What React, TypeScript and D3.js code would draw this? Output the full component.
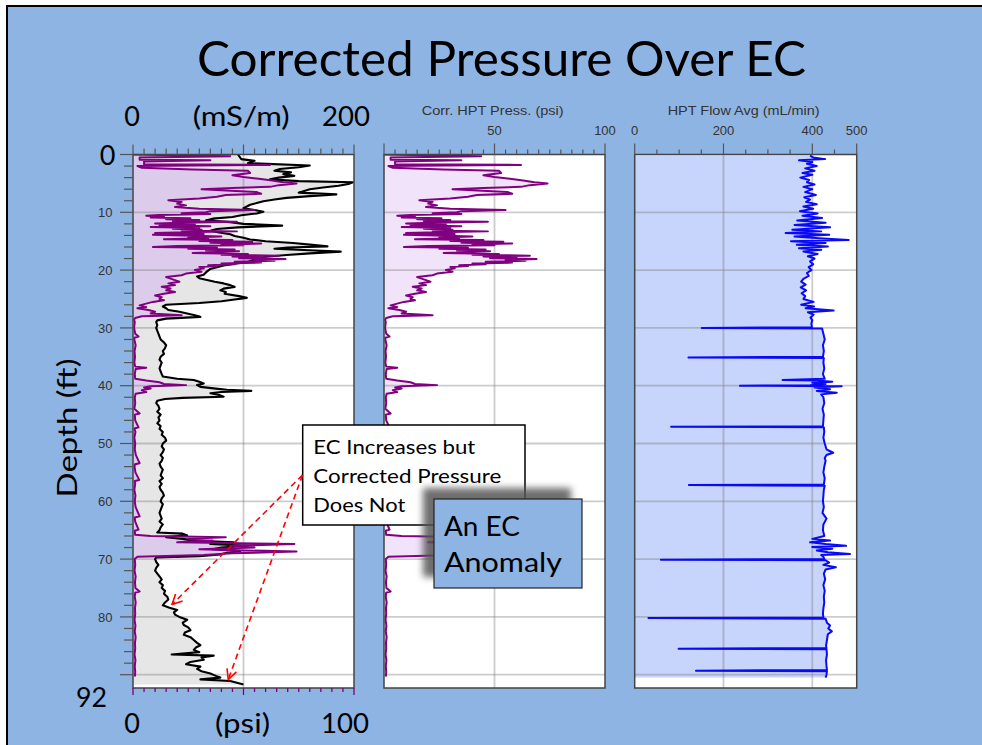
import React from "react";
import * as d3 from "d3";

const W = 982;
const H = 745;

// ---------- data (depth ft, value) ----------
const depthLabels = [10, 20, 30, 40, 50, 60, 70, 80];
const ecAxisLabels = ["0", "(mS/m)", "200"];
const psiAxisLabels = ["0", "(psi)", "100"];
const pressTickLabels = [50, 100];
const flowTickLabels = [0, 200, 400, 500];

const ecProfile: [number, number][] = [
  [0.0, 95], [0.8, 98], [1.1, 110], [1.5, 104], [1.9, 160], [2.2, 150], [2.5, 133], [2.8, 128],
  [3.1, 143], [3.4, 136], [3.7, 146], [4.0, 132], [4.3, 124], [4.6, 150], [4.8, 199], [5.1, 195],
  [5.4, 186], [5.7, 172], [6.0, 160], [6.3, 155], [6.6, 150], [6.9, 184], [7.2, 160], [7.5, 139],
  [7.8, 128], [8.1, 118], [8.4, 112], [8.7, 106], [9.0, 103], [9.3, 100], [9.6, 110], [9.9, 118],
  [10.2, 112], [10.5, 98], [10.8, 90], [11.1, 72], [11.4, 66], [11.7, 88], [12.0, 100], [12.3, 135],
  [12.6, 95], [12.9, 76], [13.2, 70], [13.5, 78], [13.8, 88], [14.1, 92], [14.4, 100], [14.7, 106],
  [15.0, 120], [15.3, 145], [15.6, 160], [15.9, 176], [16.1, 140], [16.3, 128], [16.6, 165], [16.8, 188],
  [17.1, 160], [17.4, 139], [17.7, 120], [18.0, 112], [18.3, 108], [18.6, 104], [18.9, 92], [19.2, 82],
  [19.5, 76], [19.8, 70], [20.1, 68], [20.4, 66], [20.8, 64], [21.1, 58], [21.4, 60], [21.7, 67],
  [22.0, 74], [22.3, 82], [22.6, 88], [22.9, 92], [23.2, 82], [23.5, 79], [23.8, 84], [24.1, 83],
  [24.5, 96], [24.8, 103], [25.1, 92], [25.4, 80], [25.7, 60], [26.0, 30], [26.3, 27], [26.6, 30],
  [26.9, 32], [27.2, 42], [27.5, 49], [27.8, 56], [28.1, 61], [28.4, 30], [28.7, 22], [29.0, 21],
  [29.5, 22], [30.0, 21], [30.5, 22], [31.0, 23], [31.5, 24], [32.0, 25], [32.5, 28], [33.0, 30],
  [33.5, 29], [34.0, 27], [34.5, 28], [35.0, 25], [35.5, 24], [36.0, 26], [36.5, 25], [37.0, 24],
  [37.5, 25], [38.0, 26], [38.4, 27], [38.8, 40], [39.0, 55], [39.3, 60], [39.6, 64], [39.9, 58],
  [40.2, 61], [40.5, 75], [40.7, 85], [40.9, 107], [41.1, 80], [41.3, 70], [41.6, 78], [41.9, 82],
  [42.1, 45], [42.3, 29], [42.6, 22], [43.0, 21], [43.5, 23], [44.0, 24], [44.5, 22], [45.0, 25],
  [45.5, 23], [46.0, 24], [46.5, 22], [47.0, 25], [47.5, 24], [48.0, 27], [48.5, 26], [49.0, 29],
  [49.5, 30], [50.0, 27], [50.5, 26], [51.0, 28], [51.5, 27], [52.0, 25], [52.5, 27], [53.0, 26],
  [53.5, 24], [54.0, 25], [54.5, 27], [55.0, 26], [55.5, 25], [56.0, 27], [56.5, 24], [57.0, 26],
  [57.5, 24], [58.0, 25], [58.5, 27], [59.0, 28], [59.5, 26], [60.0, 25], [60.5, 27], [61.0, 26],
  [61.5, 25], [62.0, 24], [62.5, 25], [63.0, 26], [63.5, 24], [64.0, 27], [64.5, 25], [65.0, 24],
  [65.4, 22], [65.6, 45], [65.9, 49], [66.2, 30], [66.5, 45], [66.8, 55], [67.1, 91], [67.4, 70],
  [67.7, 103], [68.0, 80], [68.3, 72], [68.6, 97], [68.9, 85], [69.2, 79], [69.5, 60], [69.7, 21],
  [70.0, 20], [70.5, 21], [71.0, 23], [71.5, 21], [72.0, 20], [72.5, 22], [73.0, 24], [73.5, 26],
  [74.0, 24], [74.5, 27], [75.0, 26], [75.5, 29], [76.0, 28], [76.5, 31], [77.0, 32], [77.5, 29],
  [78.0, 27], [78.4, 33], [78.8, 40], [79.2, 37], [79.6, 38], [80.0, 42], [80.5, 49], [81.0, 45],
  [81.4, 46], [81.8, 50], [82.3, 52], [82.7, 47], [83.1, 46], [83.5, 52], [84.0, 55], [84.5, 58],
  [84.9, 61], [85.3, 57], [85.7, 55], [86.1, 60], [86.5, 35], [86.7, 73], [87.0, 62], [87.4, 64],
  [87.8, 52], [88.2, 48], [88.6, 61], [89.0, 58], [89.4, 62], [89.8, 70], [90.2, 75], [90.5, 79],
  [90.8, 61], [91.1, 88], [91.4, 94], [91.7, 100],
];

const pressProfile: [number, number][] = [
  [0.0, 0], [0.3, 44], [0.5, 3], [0.9, 3], [1.0, 35], [1.2, 5], [1.7, 5], [1.8, 62], [2.0, 2],
  [2.3, 4], [2.6, 27], [2.8, 52], [3.2, 53], [3.6, 45], [3.9, 50], [4.2, 57], [4.5, 63], [4.8, 68],
  [5.0, 74], [5.3, 66], [5.6, 62], [5.8, 45], [6.0, 31], [6.2, 40], [6.5, 56], [6.8, 58], [7.0, 42],
  [7.3, 38], [7.6, 30], [7.9, 16], [8.2, 22], [8.5, 20], [8.8, 24], [9.1, 19], [9.4, 30], [9.6, 55],
  [9.8, 35], [10.0, 33], [10.15, 22], [10.3, 35], [10.45, 12], [10.6, 6], [10.75, 14], [10.9, 8],
  [11.05, 26], [11.2, 15], [11.35, 30], [11.5, 18], [11.65, 47], [11.8, 22], [11.95, 10], [12.1, 28],
  [12.25, 12], [12.4, 35], [12.55, 8], [12.7, 30], [12.85, 18], [13.0, 31], [13.15, 22], [13.3, 47],
  [13.45, 24], [13.6, 10], [13.75, 32], [13.9, 9], [14.05, 28], [14.2, 40], [14.35, 25], [14.5, 34],
  [14.65, 14], [14.8, 45], [14.95, 30], [15.1, 54], [15.25, 35], [15.4, 58], [15.55, 40], [15.7, 50],
  [15.85, 20], [16.0, 9], [16.15, 38], [16.3, 25], [16.45, 46], [16.6, 33], [16.75, 48], [16.9, 38],
  [17.05, 27], [17.2, 52], [17.35, 40], [17.5, 66], [17.65, 45], [17.8, 60], [17.95, 48], [18.1, 69],
  [18.25, 55], [18.4, 64], [18.55, 46], [18.7, 58], [18.85, 40], [19.0, 46], [19.15, 34], [19.3, 38],
  [19.45, 30], [19.7, 32], [20.0, 28], [20.3, 31], [20.6, 24],
  [20.9, 22], [21.2, 15], [21.6, 18], [22.0, 21], [22.3, 16], [22.6, 19], [22.9, 13], [23.2, 17],
  [23.5, 15], [23.8, 19], [24.1, 14], [24.4, 10], [24.7, 13], [25.0, 12], [25.2, 14], [25.5, 9],
  [25.8, 6], [26.1, 3], [26.4, 6], [26.6, 2], [26.9, 7], [27.2, 10], [27.5, 8], [27.8, 22],
  [28.0, 4], [28.3, 1], [28.6, 0.5], [29.0, 0.8], [30.0, 0.5], [31.0, 1.0], [31.5, 2.5], [31.7, 0.6],
  [32.0, 0.6], [33.0, 1.2], [34.0, 0.7], [35.0, 0.9], [36.0, 0.6], [36.7, 1.0], [36.9, 6], [37.1, 1.2],
  [38.0, 0.8], [38.8, 1.0], [39.1, 6], [39.4, 12], [39.7, 14], [39.9, 24], [40.1, 8], [40.3, 5],
  [40.5, 8], [40.8, 4], [41.1, 6], [41.4, 1.2], [42.0, 0.8], [43.0, 1.0], [44.0, 0.6], [44.8, 3],
  [45.0, 0.8], [46.0, 1.0], [47.2, 2.5], [47.4, 0.7], [48.0, 1.1], [49.0, 0.6], [50.0, 1.0], [51.0, 0.8],
  [52.0, 1.3], [53.4, 3], [53.6, 0.9], [54.0, 0.7], [55.0, 1.1], [56.3, 2.8], [56.5, 0.8], [57.0, 1.0],
  [58.0, 0.6], [59.0, 1.1], [60.0, 0.8], [61.0, 1.2], [62.6, 3], [62.8, 0.8], [63.5, 1.0], [64.9, 2.5],
  [65.1, 0.8], [65.8, 1.0], [66.0, 8], [66.2, 42], [66.5, 25], [66.8, 36], [67.1, 20], [67.4, 73],
  [67.7, 45], [68.0, 55], [68.3, 30], [68.7, 74], [69.0, 45], [69.3, 32], [69.6, 2], [70.0, 0.8],
  [71.0, 1.0], [72.0, 0.7], [73.0, 1.2], [74.0, 0.9], [75.0, 1.1], [75.6, 3], [75.8, 1.0], [76.5, 0.8],
  [77.5, 1.2], [78.5, 0.9], [79.5, 1.0], [80.5, 0.7], [81.5, 1.1], [82.5, 0.8], [83.5, 1.2], [84.5, 0.9],
  [85.5, 1.0], [86.5, 0.7], [87.5, 1.1], [88.5, 0.8], [89.5, 1.0], [90.3, 0.9],
];

const flowProfile: [number, number][] = [
  [0.2, 395], [0.5, 402], [0.8, 429], [1.0, 370], [1.3, 400], [1.6, 388], [2.0, 410], [2.4, 384],
  [2.8, 405], [3.2, 378], [3.5, 400], [4.0, 373], [4.4, 393], [4.8, 388], [5.2, 405], [5.6, 380],
  [6.0, 400], [6.5, 384], [7.0, 408], [7.4, 382], [7.8, 395], [8.2, 386], [8.6, 410], [9.0, 380],
  [9.4, 402], [9.8, 372], [10.2, 412], [10.6, 378], [11.0, 422], [11.4, 366], [11.8, 430], [12.2, 360],
  [12.6, 440], [13.0, 355], [13.3, 420], [13.6, 340], [13.9, 438], [14.2, 360], [14.5, 415], [14.8, 482],
  [15.0, 352], [15.3, 430], [15.6, 365], [15.9, 435], [16.2, 370], [16.5, 420], [16.8, 380], [17.2, 412],
  [17.6, 390], [18.0, 405], [18.5, 395], [19.0, 402], [19.5, 392], [20.0, 398], [20.5, 388], [21.0, 392],
  [21.5, 380], [22.0, 375], [22.5, 385], [23.0, 374], [23.5, 386], [24.0, 376], [24.5, 384], [25.0, 380],
  [25.5, 403], [26.0, 375], [26.3, 404], [26.6, 385], [27.0, 448], [27.3, 390], [27.7, 403], [28.2, 396],
  [28.7, 400], [29.2, 398], [29.9, 399], [30.0, 151], [30.1, 422], [31.0, 425], [32.0, 428], [33.0, 424],
  [34.0, 426], [35.0, 424], [35.1, 121], [35.2, 426], [36.0, 425], [37.0, 427], [38.0, 424], [38.8, 428],
  [39.0, 333], [39.1, 410], [39.3, 445], [39.5, 400], [39.7, 430], [39.9, 395], [40.0, 237], [40.1, 466],
  [40.3, 405], [40.6, 440], [40.9, 410], [41.2, 455], [41.5, 420], [42.0, 425], [43.0, 427], [44.0, 423],
  [45.0, 426], [46.0, 425], [47.0, 424], [47.1, 82], [47.2, 426], [48.0, 427], [49.0, 425], [50.0, 428],
  [51.0, 432], [51.6, 447], [52.0, 432], [52.5, 428], [53.0, 430], [54.0, 427], [55.0, 425], [56.0, 428],
  [57.1, 426], [57.2, 122], [57.3, 428], [58.0, 426], [59.0, 425], [60.0, 424], [61.0, 426], [62.0, 423],
  [63.0, 432], [64.0, 425], [65.0, 424], [66.0, 427], [66.5, 400], [66.8, 440], [67.1, 395], [67.4, 430],
  [67.7, 476], [67.9, 400], [68.2, 445], [68.5, 410], [68.8, 435], [69.1, 485], [69.3, 420], [69.6, 425],
  [70.0, 427], [70.1, 59], [70.2, 430], [70.6, 438], [71.0, 425], [71.4, 453], [71.8, 430], [72.5, 426],
  [73.5, 429], [74.5, 425], [75.5, 428], [76.5, 426], [77.5, 427], [78.5, 425], [79.5, 424], [80.1, 425],
  [80.2, 31], [80.3, 430], [81.0, 433], [81.5, 440], [82.0, 436], [82.5, 444], [83.0, 435], [84.0, 433],
  [85.0, 431], [85.4, 432], [85.5, 99], [85.6, 432], [86.5, 433], [87.5, 431], [88.5, 432], [89.2, 433],
  [89.3, 138], [89.4, 433], [90.0, 432], [90.5, 430],
];

// ---------- layout ----------
const TOP = 154.5;
const BOTTOM = 688;
const LEFT_P = [133, 354];
const MID_P = [384, 605];
const RIGHT_P = [634.7, 856.7];

const BG = "#8eb4e3";
const PURPLE = "#800080";
const GRID = "rgba(120,120,120,0.38)";
const LATO = "Lato, 'Open Sans', sans-serif";
const ARIAL = "'Liberation Sans', Arial, sans-serif";

export default function App() {
  const y = d3.scaleLinear().domain([0, 92.3]).range([TOP, BOTTOM]);
  const ecX = d3.scaleLinear().domain([0, 200]).range(LEFT_P);
  const psiL = d3.scaleLinear().domain([0, 100]).range(LEFT_P);
  const psiM = d3.scaleLinear().domain([0, 100]).range(MID_P);
  const flowX = d3.scaleLinear().domain([0, 500]).range(RIGHT_P);

  const mkLine = (xs: d3.ScaleLinear<number, number>) =>
    d3.line<[number, number]>().x((d) => xs(d[1])).y((d) => y(d[0]));
  const mkArea = (xs: d3.ScaleLinear<number, number>) =>
    d3.area<[number, number]>().x0(xs(0)).x1((d) => xs(d[1])).y((d) => y(d[0]));

  const gridDepths = d3.range(10, 91, 10);
  const depthTicks = d3.range(0, 91, 2);

  const panelRect = (p: number[], id: string) => (
    <clipPath id={id}>
      <rect x={p[0]} y={TOP} width={p[1] - p[0]} height={BOTTOM - TOP} />
    </clipPath>
  );

  const hGrid = (p: number[]) =>
    gridDepths.map((d) => (
      <line key={"g" + d} x1={p[0]} x2={p[1]} y1={y(d)} y2={y(d)} stroke={GRID} strokeWidth={1.8} />
    ));

  const topTicks = (xs: d3.ScaleLinear<number, number>, vals: number[], major: number[], lenMaj: number, lenMin: number) =>
    vals.map((v) => (
      <line
        key={"t" + v}
        x1={xs(v)}
        x2={xs(v)}
        y1={TOP}
        y2={TOP - (major.includes(v) ? lenMaj : lenMin)}
        stroke="#555"
        strokeWidth={1.2}
      />
    ));

  return (
    <div style={{ position: "absolute", left: 0, top: 0 }}>
      <svg width={W} height={H} viewBox={`0 0 ${W} ${H}`} style={{ display: "block" }}>
        <defs>
          {panelRect(LEFT_P, "clipL")}
          {panelRect(MID_P, "clipM")}
          {panelRect(RIGHT_P, "clipR")}
          <filter id="shadowBlur" x="-20%" y="-20%" width="140%" height="140%">
            <feGaussianBlur stdDeviation="3.5" />
          </filter>
          <marker id="arrowHead" viewBox="0 0 12 12" refX="11" refY="6" markerWidth="12" markerHeight="12"
            markerUnits="userSpaceOnUse" orient="auto">
            <path d="M1,1 L11,6 L1,11" fill="none" stroke="#ff0000" strokeWidth={1.6} strokeDasharray="none" />
          </marker>
        </defs>

        <rect x={0} y={0} width={W} height={H} fill="#ffffff" />
        <rect x={7} y={6} width={W + 20} height={H + 20} fill={BG} stroke="#000" strokeWidth={2} />

        {/* Title */}
        <text x={197} y={76} fontFamily={LATO} fontSize={48} textLength={609} lengthAdjust="spacingAndGlyphs" fill="#000">
          Corrected Pressure Over EC
        </text>

        {/* ---------- LEFT PANEL ---------- */}
        <rect x={LEFT_P[0]} y={TOP} width={LEFT_P[1] - LEFT_P[0]} height={BOTTOM - TOP} fill="#fff" />
        <g clipPath="url(#clipL)">
          <path d={mkArea(ecX)(ecProfile) || ""} fill="#e6e6e6" />
          <path d={mkArea(psiL)(pressProfile) || ""} fill="#dccbea" />
          {hGrid(LEFT_P)}
          <line x1={ecX(100)} x2={ecX(100)} y1={TOP} y2={BOTTOM} stroke={GRID} strokeWidth={1.8} />
          <path d={mkLine(ecX)(ecProfile) || ""} fill="none" stroke="#000" strokeWidth={2.1} strokeLinejoin="round" />
          <path d={mkLine(psiL)(pressProfile) || ""} fill="none" stroke={PURPLE} strokeWidth={2} strokeLinejoin="round" />
        </g>
        <rect x={LEFT_P[0]} y={TOP} width={LEFT_P[1] - LEFT_P[0]} height={BOTTOM - TOP} fill="none" stroke="#444" strokeWidth={1.5} />
        {topTicks(ecX, d3.range(0, 201, 10), [0, 100, 200], 10, 6)}
        {d3.range(0, 101, 5).map((v) => (
          <line key={"b" + v} x1={psiL(v)} x2={psiL(v)} y1={BOTTOM} y2={BOTTOM + ([0, 50, 100].includes(v) ? 7 : 4)}
            stroke={PURPLE} strokeWidth={1.3} />
        ))}
        {/* depth axis ticks */}
        {depthTicks.map((d) => (
          <line key={"dt" + d} x1={LEFT_P[0]} x2={LEFT_P[0] - (d % 10 === 0 ? 13 : 9)} y1={y(d)} y2={y(d)} stroke="#555" strokeWidth={1.2} />
        ))}
        {depthLabels.map((d) => (
          <text key={"dl" + d} x={112.5} y={y(d) + 4.6} textAnchor="end" fontFamily={ARIAL} fontSize={13} fill="#333">
            {d}
          </text>
        ))}
        <text x={107.5} y={165} textAnchor="middle" fontFamily={LATO} fontSize={27} fill="#000">0</text>
        <text x={76} y={706.5} fontFamily={LATO} fontSize={27} textLength={31} lengthAdjust="spacingAndGlyphs" fill="#000">92</text>
        <text transform="translate(77,428) rotate(-90)" textAnchor="middle" fontFamily={LATO} fontSize={27}
          textLength={139} lengthAdjust="spacingAndGlyphs" fill="#000">Depth (ft)</text>

        {/* left panel big axis labels */}
        <text x={132} y={126} textAnchor="middle" fontFamily={LATO} fontSize={27} fill="#000">{ecAxisLabels[0]}</text>
        <text x={192.7} y={126} fontFamily={LATO} fontSize={27} textLength={97} lengthAdjust="spacingAndGlyphs" fill="#000">{ecAxisLabels[1]}</text>
        <text x={322} y={126} fontFamily={LATO} fontSize={27} textLength={48} lengthAdjust="spacingAndGlyphs" fill="#000">{ecAxisLabels[2]}</text>
        <text x={132} y={733} textAnchor="middle" fontFamily={LATO} fontSize={27} fill="#000">{psiAxisLabels[0]}</text>
        <text x={215} y={733} fontFamily={LATO} fontSize={27} textLength={55} lengthAdjust="spacingAndGlyphs" fill="#000">{psiAxisLabels[1]}</text>
        <text x={321} y={733} fontFamily={LATO} fontSize={27} textLength={48} lengthAdjust="spacingAndGlyphs" fill="#000">{psiAxisLabels[2]}</text>

        {/* ---------- MIDDLE PANEL ---------- */}
        <rect x={MID_P[0]} y={TOP} width={MID_P[1] - MID_P[0]} height={BOTTOM - TOP} fill="#fff" />
        <g clipPath="url(#clipM)">
          <path d={mkArea(psiM)(pressProfile) || ""} fill="#f1e3fa" />
          {hGrid(MID_P)}
          <line x1={psiM(50)} x2={psiM(50)} y1={TOP} y2={BOTTOM} stroke={GRID} strokeWidth={1.8} />
          <path d={mkLine(psiM)(pressProfile) || ""} fill="none" stroke={PURPLE} strokeWidth={2} strokeLinejoin="round" />
        </g>
        <rect x={MID_P[0]} y={TOP} width={MID_P[1] - MID_P[0]} height={BOTTOM - TOP} fill="none" stroke="#444" strokeWidth={1.5} />
        {topTicks(psiM, d3.range(0, 101, 5), [0, 50, 100], 11, 5)}
        <text x={421.7} y={115} fontFamily={ARIAL} fontSize={12} textLength={142} lengthAdjust="spacingAndGlyphs" fill="#333">
          Corr. HPT Press. (psi)
        </text>
        {pressTickLabels.map((v) => (
          <text key={"pl" + v} x={psiM(v)} y={135} textAnchor="middle" fontFamily={ARIAL} fontSize={13} fill="#333">{v}</text>
        ))}

        {/* ---------- RIGHT PANEL ---------- */}
        <rect x={RIGHT_P[0]} y={TOP} width={RIGHT_P[1] - RIGHT_P[0]} height={BOTTOM - TOP} fill="#fff" />
        <g clipPath="url(#clipR)">
          <path d={mkArea(flowX)(flowProfile) || ""} fill="#c7d4fb" />
          {hGrid(RIGHT_P)}
          {[200, 400].map((v) => (
            <line key={"fv" + v} x1={flowX(v)} x2={flowX(v)} y1={TOP} y2={BOTTOM} stroke={GRID} strokeWidth={1.8} />
          ))}
          <path d={mkLine(flowX)(flowProfile) || ""} fill="none" stroke="#0a0af5" strokeWidth={2} strokeLinejoin="round" />
        </g>
        <rect x={RIGHT_P[0]} y={TOP} width={RIGHT_P[1] - RIGHT_P[0]} height={BOTTOM - TOP} fill="none" stroke="#444" strokeWidth={1.5} />
        {topTicks(flowX, d3.range(0, 501, 50), [0, 200, 400, 500], 11, 5)}
        <text x={667.7} y={115} fontFamily={ARIAL} fontSize={12} textLength={152} lengthAdjust="spacingAndGlyphs" fill="#333">
          HPT Flow Avg (mL/min)
        </text>
        {flowTickLabels.map((v) => (
          <text key={"fl" + v} x={flowX(v)} y={135} textAnchor="middle" fontFamily={ARIAL} fontSize={13} fill="#333">{v}</text>
        ))}

        {/* ---------- CALLOUTS ---------- */}
        <rect x={302.7} y={425} width={222.3} height={100} fill="#fff" stroke="#000" strokeWidth={1.5} />
        <text x={313.3} y={454} fontFamily={LATO} fontSize={20} textLength={162} lengthAdjust="spacingAndGlyphs" fill="#000">EC Increases but</text>
        <text x={313.3} y={483} fontFamily={LATO} fontSize={20} textLength={188} lengthAdjust="spacingAndGlyphs" fill="#000">Corrected Pressure</text>
        <text x={313.3} y={512} fontFamily={LATO} fontSize={20} textLength={92} lengthAdjust="spacingAndGlyphs" fill="#000">Does Not</text>

        <rect x={423} y={488} width={148} height={89} fill="#555" opacity={0.85} filter="url(#shadowBlur)" />
        <rect x={434} y={499} width={148} height={89} fill={BG} stroke="#222" strokeWidth={1.2} />
        <text x={444} y={536} fontFamily={LATO} fontSize={27} textLength={76} lengthAdjust="spacingAndGlyphs" fill="#000">An EC</text>
        <text x={444} y={572} fontFamily={LATO} fontSize={27} textLength={118} lengthAdjust="spacingAndGlyphs" fill="#000">Anomaly</text>

        <line x1={302.5} y1={475} x2={172} y2={604.5} stroke="#ff0000" strokeWidth={1.6} strokeDasharray="6,4" markerEnd="url(#arrowHead)" />
        <line x1={302.5} y1={475} x2={228.3} y2={679.5} stroke="#ff0000" strokeWidth={1.6} strokeDasharray="6,4" markerEnd="url(#arrowHead)" />
      </svg>
    </div>
  );
}
